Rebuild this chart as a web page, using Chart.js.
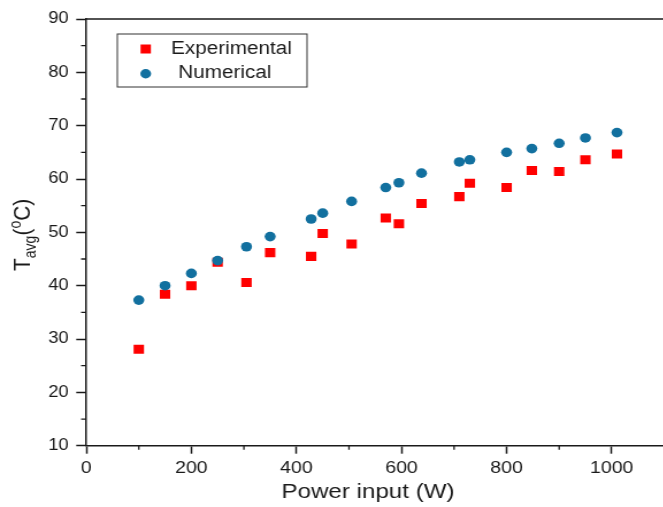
<!DOCTYPE html>
<html>
<head>
<meta charset="utf-8">
<script src="https://cdn.jsdelivr.net/npm/chart.js@4/dist/chart.umd.min.js"></script>
<style>
  html, body { margin: 0; padding: 0; background: #fff; overflow: hidden; }
  #wrap { width: 663px; height: 507px; overflow: hidden; }
  /* the source figure is stretched sideways a bit, so stretch the canvas too */
  #tChart { transform: scaleX(1.15); transform-origin: 0 0; }
</style>
</head>
<body>
<div id="wrap"><canvas id="tChart" width="584" height="507"></canvas></div>
<script>
var powerInput = [100, 150, 200, 250, 305, 350, 428, 450, 505, 570, 595, 638, 710, 730, 800, 848, 900, 950, 1010];
var experimental = [28.1, 38.4, 40.0, 44.4, 40.6, 46.2, 45.5, 49.8, 47.8, 52.7, 51.6, 55.4, 56.7, 59.2, 58.4, 61.6, 61.4, 63.6, 64.7];
var numerical = [37.3, 40.0, 42.3, 44.7, 47.3, 49.2, 52.5, 53.6, 55.8, 58.4, 59.3, 61.1, 63.2, 63.6, 65.0, 65.7, 66.7, 67.7, 68.7];
var seriesNames = ['Experimental', ' Numerical'];
var xMinorTicks = [100, 300, 500, 700, 900];
var yMinorTicks = [15, 25, 35, 45, 55, 65, 75, 85];

var red = '#ff0000';
var blue = '#12709f';
var ink = '#1a1a1a';
var fontFamily = '"Liberation Sans", Arial, sans-serif';

function toPoints(xs, ys) {
  var pts = [];
  for (var i = 0; i < xs.length; i++) {
    pts.push({x: xs[i], y: ys[i]});
  }
  return pts;
}

// frame top line, minor ticks, axis titles and the boxed legend
var decorations = {
  id: 'decorations',
  afterDraw: function(chart) {
    var ctx = chart.ctx;
    var area = chart.chartArea;
    var xs = chart.scales.x;
    var ys = chart.scales.y;
    ctx.save();
    ctx.strokeStyle = ink;
    ctx.lineWidth = 1.5;
    ctx.beginPath();
    ctx.moveTo(area.left, area.top);
    ctx.lineTo(area.right, area.top);
    ctx.stroke();

    ctx.lineWidth = 1.3;
    ctx.beginPath();
    xMinorTicks.forEach(function(v) {
      var px = xs.getPixelForValue(v);
      ctx.moveTo(px, area.bottom);
      ctx.lineTo(px, area.bottom + 4);
    });
    yMinorTicks.forEach(function(v) {
      var py = ys.getPixelForValue(v);
      ctx.moveTo(area.left, py);
      ctx.lineTo(area.left - 4.5, py);
    });
    ctx.stroke();

    // x title
    ctx.fillStyle = ink;
    ctx.textAlign = 'center';
    ctx.textBaseline = 'alphabetic';
    ctx.font = '21px ' + fontFamily;
    ctx.fillText('Power input (W)', 320, 498);

    // y title: T_avg(^oC), rotated
    ctx.save();
    ctx.translate(25.5, 271);
    ctx.rotate(-Math.PI / 2);
    ctx.textAlign = 'left';
    var big = '21px ' + fontFamily;
    var small = '14px ' + fontFamily;
    var cx = 0;
    ctx.font = big;
    ctx.fillText('T', cx, 0);
    cx += ctx.measureText('T').width;
    ctx.font = small;
    ctx.fillText('avg', cx, 5);
    cx += ctx.measureText('avg').width;
    ctx.font = big;
    ctx.fillText('(', cx, 0);
    cx += ctx.measureText('(').width;
    ctx.font = small;
    ctx.fillText('o', cx, -8);
    cx += ctx.measureText('o').width;
    ctx.font = big;
    ctx.fillText('C)', cx, 0);
    ctx.restore();

    // legend
    ctx.strokeStyle = '#333';
    ctx.lineWidth = 1;
    ctx.strokeRect(102, 34, 165, 53);
    ctx.fillStyle = red;
    ctx.fillRect(126.7 - 4.5, 49 - 4.5, 9, 9);
    ctx.fillStyle = blue;
    ctx.beginPath();
    ctx.arc(126.7, 73.7, 4.7, 0, Math.PI * 2);
    ctx.fill();
    ctx.fillStyle = ink;
    ctx.textAlign = 'left';
    ctx.textBaseline = 'middle';
    ctx.font = '18px ' + fontFamily;
    ctx.fillText(chart.data.datasets[0].label, 148.7, 49);
    ctx.fillText(chart.data.datasets[1].label, 150, 73.5);
    ctx.restore();
  }
};

var ctx = document.getElementById('tChart');
var tChart = new Chart(ctx, {
  type: 'scatter',
  data: {
    datasets: [{
      label: seriesNames[0],
      data: toPoints(powerInput, experimental),
      pointStyle: 'rect',
      pointRadius: 6.4,
      backgroundColor: red,
      borderColor: red,
      borderWidth: 0,
      order: 2
    }, {
      label: seriesNames[1],
      data: toPoints(powerInput, numerical),
      pointStyle: 'circle',
      pointRadius: 4.8,
      backgroundColor: blue,
      borderColor: blue,
      borderWidth: 0,
      order: 1
    }]
  },
  options: {
    responsive: false,
    animation: false,
    layout: { padding: { top: 19, right: 4, left: 0, bottom: 0 } },
    plugins: {
      legend: { display: false },
      tooltip: { enabled: false }
    },
    scales: {
      x: {
        type: 'linear',
        min: 0,
        max: 1100,
        border: { display: true, color: ink, width: 1.5 },
        grid: { drawOnChartArea: false, drawTicks: true, tickLength: 8, tickColor: ink, tickWidth: 1.5 },
        ticks: {
          stepSize: 200,
          includeBounds: false,
          maxRotation: 0,
          padding: 4,
          color: ink,
          font: { family: fontFamily, size: 17 },
          callback: function(v) { return String(v); }
        },
        afterFit: function(scale) { scale.height = 61.3; }
      },
      y: {
        min: 10,
        max: 90,
        border: { display: true, color: ink, width: 1.5 },
        grid: { drawOnChartArea: false, drawTicks: true, tickLength: 8.7, tickColor: ink, tickWidth: 1.5 },
        ticks: {
          stepSize: 10,
          padding: 6.6,
          color: ink,
          font: { family: fontFamily, size: 16 },
          callback: function(v) { return String(v); }
        },
        afterFit: function(scale) { scale.width = 75; }
      }
    }
  },
  plugins: [decorations]
});
</script>
</body>
</html>
